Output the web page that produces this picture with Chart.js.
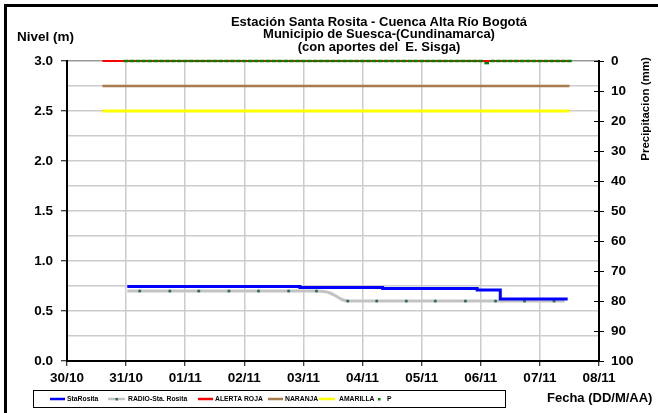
<!DOCTYPE html>
<html>
<head>
<meta charset="utf-8">
<title>Estación Santa Rosita</title>
<script src="https://cdn.jsdelivr.net/npm/chart.js@4.4.0/dist/chart.umd.min.js"></script>
<style>
  body { margin: 0; background: #fff; }
  canvas { display: block; background: #fff; }
</style>
</head>
<body>
<canvas id="nivel" width="658" height="413"></canvas>
<script>
// dias contados desde 30/10 (0 = 30/10, 1 = 31/10 ...)
const dateLabels = ['30/10', '31/10', '01/11', '02/11', '03/11', '04/11', '05/11', '06/11', '07/11', '08/11'];

// StaRosita (nivel m)
const staDates = [1.02, 3.94, 5.34, 6.94, 7.33, 8.47];
const staLevels = [0.745, 0.735, 0.725, 0.71, 0.62, 0.62];

// RADIO-Sta. Rosita (nivel m)
const radioDates = [1.02, 1.23, 1.74, 2.23, 2.74, 3.24, 3.75, 4.22, 4.35, 4.45, 4.55, 4.65, 4.75, 5.24, 5.74, 6.23, 6.74, 7.25, 7.74, 8.24, 8.42];
const radioLevels = [0.70, 0.70, 0.70, 0.70, 0.70, 0.70, 0.70, 0.70, 0.695, 0.68, 0.65, 0.615, 0.60, 0.60, 0.60, 0.60, 0.60, 0.60, 0.60, 0.60, 0.60];
const radioMarkerDates = [1.23, 1.74, 2.23, 2.74, 3.24, 3.75, 4.22, 4.75, 5.24, 5.74, 6.23, 6.74, 7.25, 7.74, 8.24];

// umbrales de alerta (m)
const alertDates = [0.6, 8.5];
const alertaRoja = [3.0, 3.0];
const alertaNaranja = [2.75, 2.75];
const alertaAmarilla = [2.5, 2.5];

// P - precipitacion (mm)
const pDates = [
  1.0, 1.1, 1.2, 1.3, 1.4, 1.5, 1.6, 1.7, 1.8, 1.9,
  2.0, 2.1, 2.2, 2.3, 2.4, 2.5, 2.6, 2.7, 2.8, 2.9,
  3.0, 3.1, 3.2, 3.3, 3.4, 3.5, 3.6, 3.7, 3.8, 3.9,
  4.0, 4.1, 4.2, 4.3, 4.4, 4.5, 4.6, 4.7, 4.8, 4.9,
  5.0, 5.1, 5.2, 5.3, 5.4, 5.5, 5.6, 5.7, 5.8, 5.9,
  6.0, 6.1, 6.2, 6.3, 6.4, 6.5, 6.6, 6.7, 6.8, 6.9,
  7.0, 7.1, 7.2, 7.3, 7.4, 7.5, 7.6, 7.7, 7.8, 7.9,
  8.0, 8.1, 8.2, 8.3, 8.4, 8.5
];
const pValues = [
  0, 0, 0, 0, 0, 0, 0, 0, 0, 0,
  0, 0, 0, 0, 0, 0, 0, 0, 0, 0,
  0, 0, 0, 0, 0, 0, 0, 0, 0, 0,
  0, 0, 0, 0, 0, 0, 0, 0, 0, 0,
  0, 0, 0, 0, 0, 0, 0, 0, 0, 0,
  0, 0, 0, 0, 0, 0, 0, 0, 0, 0,
  0, 0.7, 0, 0, 0, 0, 0, 0, 0, 0,
  0, 0, 0, 0, 0, 0
];

const titleLines = [
  'Estación Santa Rosita - Cuenca Alta Río Bogotá',
  'Municipio de Suesca-(Cundinamarca)',
  '(con aportes del  E. Sisga)'
];

const FONT = "'Liberation Sans', Arial, sans-serif";

function toPoints(xs, ys) {
  return xs.map((x, i) => ({ x: x, y: ys[i] }));
}

// titulos, leyenda y marco dibujados a mano
const decorPlugin = {
  id: 'decor',
  afterDraw(chart) {
    const ctx = chart.ctx;
    const area = chart.chartArea;
    ctx.save();

    // marco
    ctx.fillStyle = '#000';
    ctx.fillRect(4, 4, 654, 3);
    ctx.fillRect(4, 4, 3, 409);

    // titulo
    ctx.font = 'bold 13px ' + FONT;
    ctx.textAlign = 'center';
    ctx.textBaseline = 'middle';
    titleLines.forEach((t, i) => ctx.fillText(t, 379, 22 + i * 12.5));

    ctx.font = 'bold 13.5px ' + FONT;
    ctx.textAlign = 'left';
    ctx.fillText('Nivel (m)', 17, 37);
    ctx.font = 'bold 13px ' + FONT;
    ctx.fillText('Fecha (DD/M/AA)', 547, 398);

    ctx.save();
    ctx.font = 'bold 11.5px ' + FONT;
    ctx.translate(646, 109);
    ctx.rotate(-Math.PI / 2);
    ctx.textAlign = 'center';
    ctx.fillText('Precipitacion (mm)', 0, 0);
    ctx.restore();

    // marcas internas del eje derecho
    const y2 = chart.scales.y2;
    ctx.strokeStyle = '#000';
    ctx.lineWidth = 1;
    y2.ticks.forEach(t => {
      const py = Math.round(y2.getPixelForValue(t.value)) + 0.5;
      ctx.beginPath();
      ctx.moveTo(area.right - 5, py);
      ctx.lineTo(area.right, py);
      ctx.stroke();
    });

    // leyenda
    const ly = 399;
    ctx.strokeStyle = '#000';
    ctx.lineWidth = 1;
    ctx.strokeRect(33.5, 390.5, 472, 17);
    ctx.font = 'bold 6.8px ' + FONT;
    ctx.textAlign = 'left';
    ctx.textBaseline = 'middle';
    const items = [
      { ds: 0, x0: 50, x1: 65, tx: 67 },
      { ds: 1, x0: 108, x1: 125, tx: 128, dot: '#2d6e5e' },
      { ds: 3, x0: 198, x1: 213, tx: 215 },
      { ds: 4, x0: 268, x1: 283, tx: 285 },
      { ds: 5, x0: 319, x1: 335, tx: 339 },
      { ds: 2, x0: null, x1: null, tx: 387, dot: '#008000', dotX: 379 }
    ];
    items.forEach(it => {
      const ds = chart.data.datasets[it.ds];
      if (it.x0 !== null) {
        ctx.strokeStyle = ds.borderColor;
        ctx.lineWidth = 2.5;
        ctx.beginPath();
        ctx.moveTo(it.x0, ly);
        ctx.lineTo(it.x1, ly);
        ctx.stroke();
      }
      if (it.dot) {
        ctx.fillStyle = it.dot;
        const dx = it.dotX !== undefined ? it.dotX : (it.x0 + it.x1) / 2;
        ctx.fillRect(dx - 1, ly - 1, 2.5, 2.5);
      }
      ctx.fillStyle = '#000';
      ctx.fillText(ds.label, it.tx, ly + 0.5);
    });

    ctx.restore();
  }
};

function createChartNivel() {
  const ctx = document.getElementById('nivel').getContext('2d');

  new Chart(ctx, {
    type: 'line',
    data: {
      datasets: [
        {
          label: 'StaRosita',
          data: toPoints(staDates, staLevels),
          borderColor: '#0000ff',
          borderWidth: 3,
          stepped: 'before',
          pointRadius: 0,
          yAxisID: 'y',
          clip: false,
          order: 0
        },
        {
          label: 'RADIO-Sta. Rosita',
          data: toPoints(radioDates, radioLevels),
          borderColor: '#c3c3c3',
          borderWidth: 3,
          cubicInterpolationMode: 'monotone',
          pointRadius: c => radioMarkerDates.includes(c.raw ? c.raw.x : -1) ? 1.6 : 0,
          pointBackgroundColor: '#2d6e5e',
          pointBorderWidth: 0,
          yAxisID: 'y',
          clip: false,
          order: 1
        },
        {
          label: 'P',
          data: toPoints(pDates, pValues),
          showLine: false,
          pointStyle: 'line',
          pointRadius: 2.3,
          pointBorderWidth: 2.5,
          pointBorderColor: '#008000',
          pointBackgroundColor: '#008000',
          borderColor: '#008000',
          yAxisID: 'y2',
          clip: false,
          order: 2
        },
        {
          label: 'ALERTA ROJA',
          data: toPoints(alertDates, alertaRoja),
          borderColor: '#ff0000',
          borderWidth: 2,
          pointRadius: 0,
          yAxisID: 'y',
          clip: false,
          order: 3
        },
        {
          label: 'NARANJA',
          data: toPoints(alertDates, alertaNaranja),
          borderColor: '#a87a4e',
          borderWidth: 2.5,
          pointRadius: 0,
          yAxisID: 'y',
          clip: false,
          order: 4
        },
        {
          label: 'AMARILLA',
          data: toPoints(alertDates, alertaAmarilla),
          borderColor: '#ffff00',
          borderWidth: 3,
          pointRadius: 0,
          yAxisID: 'y',
          clip: false,
          order: 5
        }
      ]
    },
    options: {
      responsive: false,
      animation: false,
      layout: {
        padding: { top: 61, left: 0, right: 0, bottom: 0 }
      },
      plugins: {
        legend: { display: false },
        title: { display: false },
        tooltip: { enabled: false }
      },
      scales: {
        x: {
          type: 'linear',
          min: 0,
          max: 9,
          afterFit: s => { s.height = 413 - 361; },
          afterBuildTicks: s => { s.ticks = dateLabels.map((_, i) => ({ value: i })); },
          ticks: {
            stepSize: 1,
            autoSkip: false,
            maxRotation: 0,
            padding: 4,
            color: '#000',
            font: { size: 13.5, weight: 'bold', family: FONT },
            callback: v => dateLabels[Math.round(v)]
          },
          grid: {
            color: '#cccccc',
            lineWidth: 1.5,
            tickLength: 5,
            tickColor: '#000',
            tickWidth: 1
          },
          border: { color: '#000', width: 2 }
        },
        y: {
          position: 'left',
          min: 0,
          max: 3,
          afterFit: s => { s.width = 67; },
          ticks: {
            stepSize: 0.25,
            padding: 8,
            color: '#000',
            font: { size: 13.5, weight: 'bold', family: FONT },
            callback: v => (Math.abs(v * 2 - Math.round(v * 2)) < 1e-6) ? v.toFixed(1) : ''
          },
          grid: {
            color: c => (c.tick && c.tick.value === 3) ? '#999999' : '#cccccc',
            lineWidth: 1.5,
            tickLength: 6,
            tickColor: c => (c.tick && Math.abs(c.tick.value * 2 - Math.round(c.tick.value * 2)) < 1e-6) ? '#000' : 'rgba(0,0,0,0)',
            tickWidth: 1
          },
          border: { color: '#000', width: 2 }
        },
        y2: {
          position: 'right',
          min: 0,
          max: 100,
          reverse: true,
          afterFit: s => { s.width = 658 - 599; },
          ticks: {
            stepSize: 10,
            padding: 7,
            color: '#000',
            font: { size: 13.5, weight: 'bold', family: FONT }
          },
          grid: {
            drawOnChartArea: false,
            tickLength: 5,
            tickColor: '#000',
            tickWidth: 1
          },
          border: { color: '#000', width: 2 }
        }
      }
    },
    plugins: [decorPlugin]
  });
}

document.addEventListener('DOMContentLoaded', function () {
  try {
    createChartNivel();
  } catch (error) {
    console.error(error);
  }
});
</script>
</body>
</html>
